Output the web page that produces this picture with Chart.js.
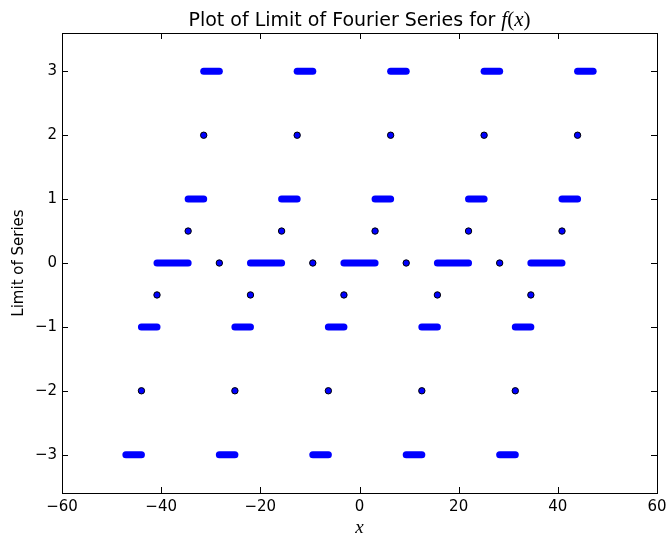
<!DOCTYPE html>
<html>
<head>
<meta charset="utf-8">
<script src="https://cdn.jsdelivr.net/npm/chart.js@4"></script>
<style>
  body { margin: 0; background: #fff; }
  #wrap { width: 668px; height: 535px; }
</style>
</head>
<body>
<div id="wrap"><canvas id="grafica" width="668" height="535"></canvas></div>
<script>
// Tramos constantes del límite de la serie (inicio, fin, valor)
const segStart = [-47.12, -43.98, -40.84, -34.56, -31.42, -28.27, -25.13, -21.99, -15.71, -12.57, -9.42, -6.28, -3.14, 3.14, 6.28, 9.42, 12.57, 15.71, 21.99, 25.13, 28.27, 31.42, 34.56, 40.84, 43.98]
const segEnd   = [-43.98, -40.84, -34.56, -31.42, -28.27, -25.13, -21.99, -15.71, -12.57, -9.42, -6.28, -3.14, 3.14, 6.28, 9.42, 12.57, 15.71, 21.99, 25.13, 28.27, 31.42, 34.56, 40.84, 43.98, 47.12]
const segValue = [-3, -1, 0, 1, 3, -3, -1, 0, 1, 3, -3, -1, 0, 1, 3, -3, -1, 0, 1, 3, -3, -1, 0, 1, 3]

// Valores en las discontinuidades
const jumpX = [-43.98, -40.84, -34.56, -31.42, -28.27, -25.13, -21.99, -15.71, -12.57, -9.42, -6.28, -3.14, 3.14, 6.28, 9.42, 12.57, 15.71, 21.99, 25.13, 28.27, 31.42, 34.56, 40.84, 43.98]
const jumpY = [-2, -0.5, 0.5, 2, 0, -2, -0.5, 0.5, 2, 0, -2, -0.5, 0.5, 2, 0, -2, -0.5, 0.5, 2, 0, -2, -0.5, 0.5, 2]

// Marcas de los ejes
const xTicks = [-60, -40, -20, 0, 20, 40, 60]
const yTicks = [-3, -2, -1, 0, 1, 2, 3]

const azul = '#0000ff'

let datasets = []
for (let i = 0; i < segStart.length; i++) {
    datasets.push({
        type: 'line',
        data: [{x: segStart[i], y: segValue[i]}, {x: segEnd[i], y: segValue[i]}],
        borderColor: azul,
        borderWidth: 7,
        borderCapStyle: 'round',
        pointRadius: 0,
        showLine: true
    })
}
datasets.push({
    type: 'scatter',
    data: jumpX.map((x, i) => ({x: x, y: jumpY[i]})),
    backgroundColor: azul,
    borderColor: '#000',
    borderWidth: 1,
    pointRadius: 3.2
})

const menos = v => String(v).replace('-', '\u2212')

// Marco, marcas hacia dentro y título con f(x) en cursiva
const marco = {
    id: 'marco',
    afterDatasetsDraw(chart) {
        const {ctx, chartArea: a, scales: {x, y}} = chart
        ctx.save()
        ctx.strokeStyle = '#000'
        ctx.lineWidth = 1
        ctx.strokeRect(Math.round(a.left) + 0.5, Math.round(a.top) + 0.5,
            Math.round(a.right - a.left), Math.round(a.bottom - a.top))
        ctx.beginPath()
        xTicks.forEach(v => {
            const p = Math.round(x.getPixelForValue(v)) + 0.5
            ctx.moveTo(p, a.top); ctx.lineTo(p, a.top + 6)
            ctx.moveTo(p, a.bottom); ctx.lineTo(p, a.bottom - 6)
        })
        yTicks.forEach(v => {
            const p = Math.round(y.getPixelForValue(v)) + 0.5
            ctx.moveTo(a.left, p); ctx.lineTo(a.left + 6, p)
            ctx.moveTo(a.right, p); ctx.lineTo(a.right - 6, p)
        })
        ctx.stroke()

        const partes = [
            ['Plot of Limit of Fourier Series for ', '19px "DejaVu Sans"'],
            ['f', 'italic 21px "Liberation Serif"'],
            ['(', '21px "Liberation Serif"'],
            ['x', 'italic 21px "Liberation Serif"'],
            [')', '21px "Liberation Serif"']
        ]
        let total = 0
        partes.forEach(p => { ctx.font = p[1]; total += ctx.measureText(p[0]).width })
        let cx = (a.left + a.right) / 2 - total / 2
        ctx.fillStyle = '#000'
        ctx.textBaseline = 'alphabetic'
        partes.forEach(p => {
            ctx.font = p[1]
            ctx.fillText(p[0], cx, 26)
            cx += ctx.measureText(p[0]).width
        })
        ctx.restore()
    }
}

let ctx = document.getElementById('grafica')
const config = {
    type: 'scatter',
    data: { datasets: datasets },
    options: {
        responsive: false,
        animation: false,
        layout: { padding: { top: 33, right: 11, left: 0, bottom: 0 } },
        plugins: { legend: { display: false }, tooltip: { enabled: false } },
        scales: {
            x: {
                type: 'linear',
                min: -60,
                max: 60,
                afterBuildTicks: s => { s.ticks = xTicks.map(v => ({value: v})) },
                afterFit: s => { s.height = 42; s.paddingLeft = 0; s.paddingRight = 0 },
                grid: { display: false, drawTicks: false },
                border: { display: false },
                ticks: { color: '#000', padding: 5, maxRotation: 0, font: { family: 'DejaVu Sans', size: 15 }, callback: menos },
                title: { display: true, text: 'x', color: '#000', padding: { top: 0, bottom: 0 }, font: { family: 'Liberation Serif', style: 'italic', size: 19, lineHeight: 0.7 } }
            },
            y: {
                type: 'linear',
                min: -3.6,
                max: 3.6,
                afterBuildTicks: s => { s.ticks = yTicks.map(v => ({value: v})) },
                afterFit: s => { s.width = 62; s.paddingTop = 0; s.paddingBottom = 0 },
                grid: { display: false, drawTicks: false },
                border: { display: false },
                ticks: { color: '#000', padding: 5, font: { family: 'DejaVu Sans', size: 15 }, callback: menos },
                title: { display: true, text: 'Limit of Series', color: '#000', padding: { top: 10, bottom: 0 }, font: { family: 'DejaVu Sans', size: 15 } }
            }
        }
    },
    plugins: [marco]
}

let myChart = new Chart(ctx, config)
</script>
</body>
</html>
